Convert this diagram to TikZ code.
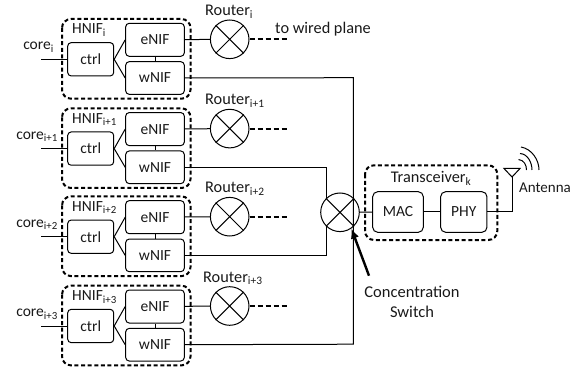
\documentclass[tikz,border=0pt]{standalone}
\usepackage{fontspec}
\setmainfont{Carlito}
\usetikzlibrary{arrows.meta}
\tikzset{
 x=1pt,y=-1pt,
 box/.style={draw,line width=1pt,rounded corners=3.5pt,inner sep=0pt,font=\fontsize{15.5}{15}\selectfont,text=black!90},
 dbox/.style={draw,line width=2pt,dash pattern=on 4pt off 2.6pt,rounded corners=9pt},
 lbl/.style={inner sep=0pt,font=\fontsize{15.5}{15}\selectfont,text=black!90},
 big/.style={lbl,font=\fontsize{16.3}{20}\selectfont},
 wire/.style={line width=1pt},
 dwire/.style={line width=2pt,dash pattern=on 5pt off 3pt},
 xc/.style={draw,circle,line width=1pt,minimum size=38.6pt,inner sep=0pt},
}
\newcommand{\hnif}[6]{%
 \begin{scope}[yshift=-#2pt]
 \draw[dbox] (62,19) rectangle (190.5,98.7);
 \node[box,minimum width=46pt,minimum height=33.3pt] (ctrl#1) at (90.7,59.3) {ctrl};
 \node[box,minimum width=58.6pt,minimum height=33pt] (e#1) at (155,39.8) {eNIF};
 \node[box,minimum width=58.6pt,minimum height=32.6pt] (w#1) at (155,78) {wNIF};
 \node[xc] (r#1) at (229.7,39.3) {};
 \draw[wire] (r#1.45)--(r#1.225) (r#1.135)--(r#1.-45);
 \node[lbl,anchor=base west] (hl#1) at (72,34) {HNIF\textsubscript{#3}};
 \node[lbl,anchor=base east] (cl#1) at (#6,50) {core\textsubscript{#3}};
 \node[big,anchor=base west] (rl#1) at (#4,15.5) {Router\textsubscript{#3}};
 \coordinate (cs#1) at (41,59.3);
 \coordinate (de#1) at (289,39.3);
 \draw[wire] (cs#1)--(ctrl#1);
 \draw[wire] (ctrl#1.east)--(e#1.west);
 \draw[wire] (ctrl#1.east)--(w#1.west);
 \draw[wire] (e#1)--(w#1);
 \draw[wire] (e#1)--(r#1);
 \draw[dwire] (r#1)--(de#1);
 \end{scope}}
\begin{document}
\begin{tikzpicture}
\useasboundingbox (0,0) rectangle (580,371);
\hnif{a}{0}{i}{205}{0}{54}
\hnif{b}{89.3}{i+1}{205}{0}{58}
\hnif{c}{177.4}{i+2}{205}{0}{58}
\hnif{d}{266.7}{i+3}{203}{0}{58}
\node[big,anchor=base west] (tw) at (275,33.5) {to wired plane};
\node[xc] (sw) at (340,212.3) {};
\draw[wire] (sw.45)--(sw.225) (sw.135)--(sw.-45);
\coordinate (busT) at (353.3,77.7);
\coordinate (busB) at (353.3,344.2);
\draw[wire] (wa.east) -- (busT) -- (busB) -- (wd.east);
\draw[wire] (wb.east) -| (326.7,199);
\draw[wire] (wc.east) -| (326.7,226);
\draw[dbox] (365,165.3) rectangle (497.3,240);
\node[big,anchor=base] (tr) at (431,183) {Transceiver\textsubscript{k}};
\node[box,minimum width=50.6pt,minimum height=40.6pt,rounded corners=5pt] (mac) at (398,212) {MAC};
\node[box,minimum width=46.3pt,minimum height=40.6pt,rounded corners=5pt] (phy) at (463.8,212) {PHY};
\draw[wire] (sw)--(mac);
\draw[wire] (mac)--(phy);
\coordinate (ant) at (512,177);
\draw[wire] (phy.east) -| (ant);
\draw[wire] (ant) -- (504,168.5) -- (520,168.5) -- cycle;
\draw[wire] (518.5,159.5) .. controls (524,160) and (526.5,165) .. (526.5,170);
\draw[wire] (520,153.5) .. controls (528,154) and (532,163) .. (532,170);
\draw[wire] (521,147) .. controls (532,149) and (539,160) .. (539,170);
\node[lbl,anchor=base west,font=\fontsize{15}{14}\selectfont] (al) at (519,193) {Antenna};
\coordinate (arS) at (369,275.7);
\draw[line width=2.4pt,-{Latex[length=10pt,width=8.5pt]}] (arS) -- (sw.-55);
\node[big,align=center,anchor=north,font=\fontsize{16.5}{20}\selectfont] (cs) at (412,285.5) {Concentration\\Switch};
\end{tikzpicture}
\end{document}
